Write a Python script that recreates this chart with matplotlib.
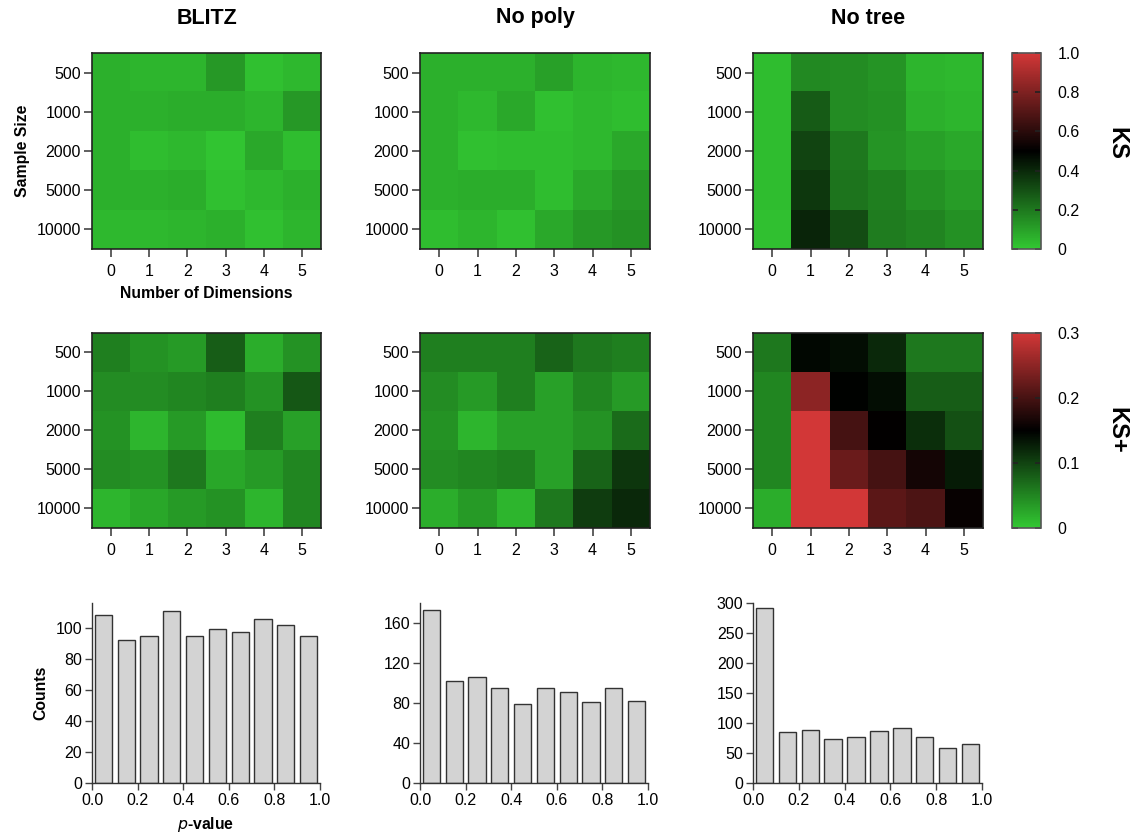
import numpy as np
import matplotlib
matplotlib.use("Agg")
import matplotlib.pyplot as plt
from matplotlib.colors import LinearSegmentedColormap

plt.rcParams['font.family'] = ['Liberation Sans', 'DejaVu Sans']

methods = ["BLITZ", "No poly", "No tree"]
sample_sizes = ["500", "1000", "2000", "5000", "10000"]
dimensions = [0, 1, 2, 3, 4, 5]

# KS statistic, rows = sample size, cols = number of dimensions
ks_blitz = [[0.06, 0.05, 0.05, 0.12, 0.02, 0.04],
            [0.06, 0.06, 0.07, 0.07, 0.05, 0.12],
            [0.06, 0.03, 0.04, 0.01, 0.08, 0.03],
            [0.06, 0.06, 0.07, 0.02, 0.04, 0.06],
            [0.04, 0.04, 0.05, 0.06, 0.02, 0.05]]
ks_nopoly = [[0.06, 0.06, 0.06, 0.10, 0.05, 0.04],
             [0.06, 0.04, 0.08, 0.02, 0.04, 0.03],
             [0.06, 0.02, 0.03, 0.03, 0.04, 0.08],
             [0.06, 0.07, 0.07, 0.03, 0.08, 0.12],
             [0.03, 0.05, 0.02, 0.08, 0.12, 0.14]]
ks_notree = [[0.03, 0.16, 0.15, 0.13, 0.05, 0.04],
             [0.03, 0.27, 0.15, 0.14, 0.06, 0.05],
             [0.03, 0.33, 0.20, 0.13, 0.10, 0.08],
             [0.03, 0.36, 0.21, 0.18, 0.14, 0.11],
             [0.02, 0.41, 0.31, 0.19, 0.17, 0.14]]

# KS+ statistic
ksp_blitz = [[0.055, 0.040, 0.035, 0.080, 0.020, 0.040],
             [0.045, 0.045, 0.050, 0.055, 0.040, 0.085],
             [0.040, 0.015, 0.035, 0.010, 0.055, 0.030],
             [0.045, 0.040, 0.060, 0.025, 0.035, 0.050],
             [0.015, 0.025, 0.035, 0.040, 0.015, 0.050]]
ksp_nopoly = [[0.055, 0.055, 0.055, 0.075, 0.060, 0.055],
              [0.045, 0.035, 0.055, 0.030, 0.050, 0.035],
              [0.040, 0.015, 0.030, 0.030, 0.040, 0.070],
              [0.045, 0.050, 0.055, 0.030, 0.075, 0.110],
              [0.020, 0.035, 0.015, 0.060, 0.105, 0.120]]
ksp_notree = [[0.060, 0.145, 0.140, 0.120, 0.060, 0.060],
              [0.050, 0.250, 0.148, 0.140, 0.080, 0.080],
              [0.050, 0.300, 0.200, 0.152, 0.115, 0.090],
              [0.050, 0.300, 0.225, 0.200, 0.165, 0.130],
              [0.020, 0.300, 0.300, 0.215, 0.205, 0.155]]

# p-value histograms (10 bins of width 0.1)
bin_centers = [0.05, 0.15, 0.25, 0.35, 0.45, 0.55, 0.65, 0.75, 0.85, 0.95]
counts_blitz = [108, 92, 95, 111, 95, 99, 97, 106, 102, 95]
counts_nopoly = [173, 102, 106, 95, 79, 95, 91, 81, 95, 82]
counts_notree = [291, 85, 88, 73, 76, 86, 92, 76, 58, 65]

W, H = 1138, 833
cmap = LinearSegmentedColormap.from_list("gkr", ["#32c832", "#000000", "#d23737"])
tick_col = "#444444"
lab_size = 11.5


def box(x0, y0, x1, y1):
    return [x0 / W, 1 - y1 / H, (x1 - x0) / W, (y1 - y0) / H]


def heatmap(fig, rect, data, vmax):
    ax = fig.add_axes(rect)
    im = ax.imshow(np.array(data), cmap=cmap, vmin=0, vmax=vmax,
                   aspect='auto', interpolation='nearest')
    ax.set_xticks(range(len(dimensions)))
    ax.set_xticklabels([str(d) for d in dimensions])
    ax.set_yticks(range(len(sample_sizes)))
    ax.set_yticklabels(sample_sizes)
    ax.tick_params(length=6, width=1.2, color=tick_col, labelsize=lab_size, pad=2)
    ax.tick_params(axis='x', pad=5)
    for s in ax.spines.values():
        s.set_linewidth(1.2)
        s.set_color("#222222")
    return ax, im


def colorbar(fig, rect, im, ticks, labels):
    cax = fig.add_axes(rect)
    cb = fig.colorbar(im, cax=cax, ticks=ticks)
    cb.ax.set_yticklabels(labels)
    cb.ax.tick_params(direction='in', left=True, right=True, length=4,
                      width=1.2, color="#222222", labelsize=lab_size, pad=12)
    cb.outline.set_linewidth(1.2)
    cb.outline.set_edgecolor("#555555")


def histogram(fig, rect, counts, ymax, yticks):
    ax = fig.add_axes(rect)
    ax.bar(bin_centers, counts, width=0.076, color="#d3d3d3",
           edgecolor="#333333", linewidth=1.0)
    ax.set_xlim(0, 1)
    ax.set_ylim(0, ymax)
    ax.set_xticks([0, 0.2, 0.4, 0.6, 0.8, 1.0])
    ax.set_xticklabels(["0.0", "0.2", "0.4", "0.6", "0.8", "1.0"])
    ax.set_yticks(yticks)
    ax.spines['top'].set_visible(False)
    ax.spines['right'].set_visible(False)
    for s in ("left", "bottom"):
        ax.spines[s].set_color("#333333")
        ax.spines[s].set_linewidth(1.0)
    ax.tick_params(length=5, width=1.0, color=tick_col, labelsize=lab_size, pad=2)
    return ax


fig = plt.figure(figsize=(W / 100, H / 100), dpi=100)

cols = [(92, 321), (420, 650), (753, 983)]
ks_data = [ks_blitz, ks_nopoly, ks_notree]
ksp_data = [ksp_blitz, ksp_nopoly, ksp_notree]

for i, (x0, x1) in enumerate(cols):
    ax1, im1 = heatmap(fig, box(x0, 53, x1, 249), ks_data[i], 1.0)
    ax2, im2 = heatmap(fig, box(x0, 333, x1, 528), ksp_data[i], 0.3)
    fig.text((x0 + x1) / 2 / W, 1 - 18 / H, methods[i], ha='center',
             va='center', fontsize=15.5, fontweight='bold')
    if i == 0:
        ax1.set_ylabel("Sample Size", fontsize=11.3, fontweight='bold', labelpad=5)
        ax1.set_xlabel("Number of Dimensions", fontsize=11.3, fontweight='bold', labelpad=5)

colorbar(fig, box(1012, 53, 1041, 249), im1, [0, 0.2, 0.4, 0.6, 0.8, 1.0],
         ["0", "0.2", "0.4", "0.6", "0.8", "1.0"])
colorbar(fig, box(1012, 333, 1041, 528), im2, [0, 0.1, 0.2, 0.3],
         ["0", "0.1", "0.2", "0.3"])

fig.text(1117 / W, 1 - 143 / H, "KS", rotation=-90, ha='center', va='center',
         fontsize=17, fontweight='bold')
fig.text(1117 / W, 1 - 430 / H, "KS+", rotation=-90, ha='center', va='center',
         fontsize=17, fontweight='bold')

hcols = [(92, 320), (420, 648), (753, 982)]
hb = histogram(fig, box(hcols[0][0], 603, hcols[0][1], 783), counts_blitz, 116,
               [0, 20, 40, 60, 80, 100])
hb.set_ylabel("Counts", fontsize=11.3, fontweight='bold', labelpad=5)
hb.set_xlabel(r"$\bf\it{p}$-value", fontsize=11.3, fontweight='bold', labelpad=5)
histogram(fig, box(hcols[1][0], 603, hcols[1][1], 783), counts_nopoly, 180,
          [0, 40, 80, 120, 160])
histogram(fig, box(hcols[2][0], 603, hcols[2][1], 783), counts_notree, 300,
          [0, 50, 100, 150, 200, 250, 300])

fig.savefig("out.png", dpi=100)
